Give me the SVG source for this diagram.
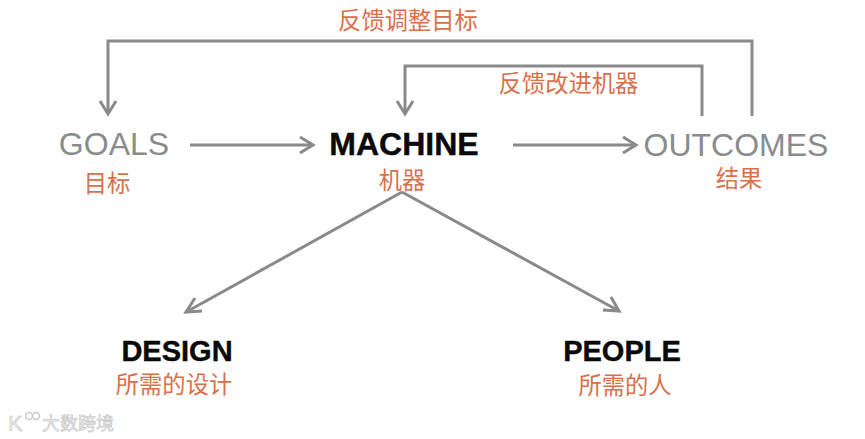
<svg xmlns="http://www.w3.org/2000/svg" width="865" height="439" viewBox="0 0 865 439">
<style>
.en{font-family:"Liberation Sans",Arial,sans-serif;font-size:32px;text-anchor:middle}
.g{fill:#8a8c8c}
.b{fill:#0a0a0a;font-weight:bold;stroke:#0a0a0a;stroke-width:.4}
.zh{font-family:"Noto Sans CJK SC","Noto Sans",sans-serif;font-size:23.3px;fill:#d9704a;text-anchor:middle}
.c{fill:none;stroke:#8a8a8a;stroke-width:3;stroke-linejoin:miter}
.w{font-family:"Noto Sans CJK SC",sans-serif;font-size:18px;fill:#ececec;stroke:#bdbdbd;stroke-width:.5}
</style>
<rect width="865" height="439" fill="#fff"/>
<g id="connectors">
<path class="c" d="M752 116V41H108V112"/>
<path class="c" d="M100 101L108 114L116 101"/>
<path class="c" d="M702 116V66H405V112"/>
<path class="c" d="M397 101L405 114L413 101"/>
<path class="c" d="M190 145H311"/>
<path class="c" d="M300 137L313 145L300 153"/>
<path class="c" d="M513 145H635"/>
<path class="c" d="M623 137L636 145L623 153"/>
<path class="c" d="M402 192L188 311"/>
<path class="c" d="M195 298L186 312L202 311"/>
<path class="c" d="M402 192L619 311"/>
<path class="c" d="M611 297L619 311L603 310"/>
</g>
<g id="feedback-goal"><text class="zh" x="408" y="29">反馈调整目标</text></g>
<g id="feedback-machine"><text class="zh" x="568.500" y="92">反馈改进机器</text></g>
<g id="goals"><text class="en g" x="114" y="155">GOALS</text><text class="zh" x="107" y="192">目标</text></g>
<g id="machine"><text class="en b" x="404" y="155">MACHINE</text><text class="zh" x="402" y="189">机器</text></g>
<g id="outcomes"><text class="en g" x="736" y="156">OUTCOMES</text><text class="zh" x="739" y="187">结果</text></g>
<g id="design"><text class="en b" style="font-size:29px" x="177" y="361">DESIGN</text><text class="zh" x="174" y="393">所需的设计</text></g>
<g id="people"><text class="en b" style="font-size:29px" x="622" y="361">PEOPLE</text><text class="zh" x="625" y="394">所需的人</text></g>
<g id="watermark"><text class="w" x="8" y="431" style="font-size:22px;font-family:'Liberation Sans',sans-serif">K</text><circle cx="29" cy="416" r="3.5" fill="none" stroke="#ccc" stroke-width="1.5"/><circle cx="36" cy="416" r="3.5" fill="none" stroke="#ccc" stroke-width="1.5"/><text class="w" x="42" y="430">大数跨境</text></g>
</svg>
